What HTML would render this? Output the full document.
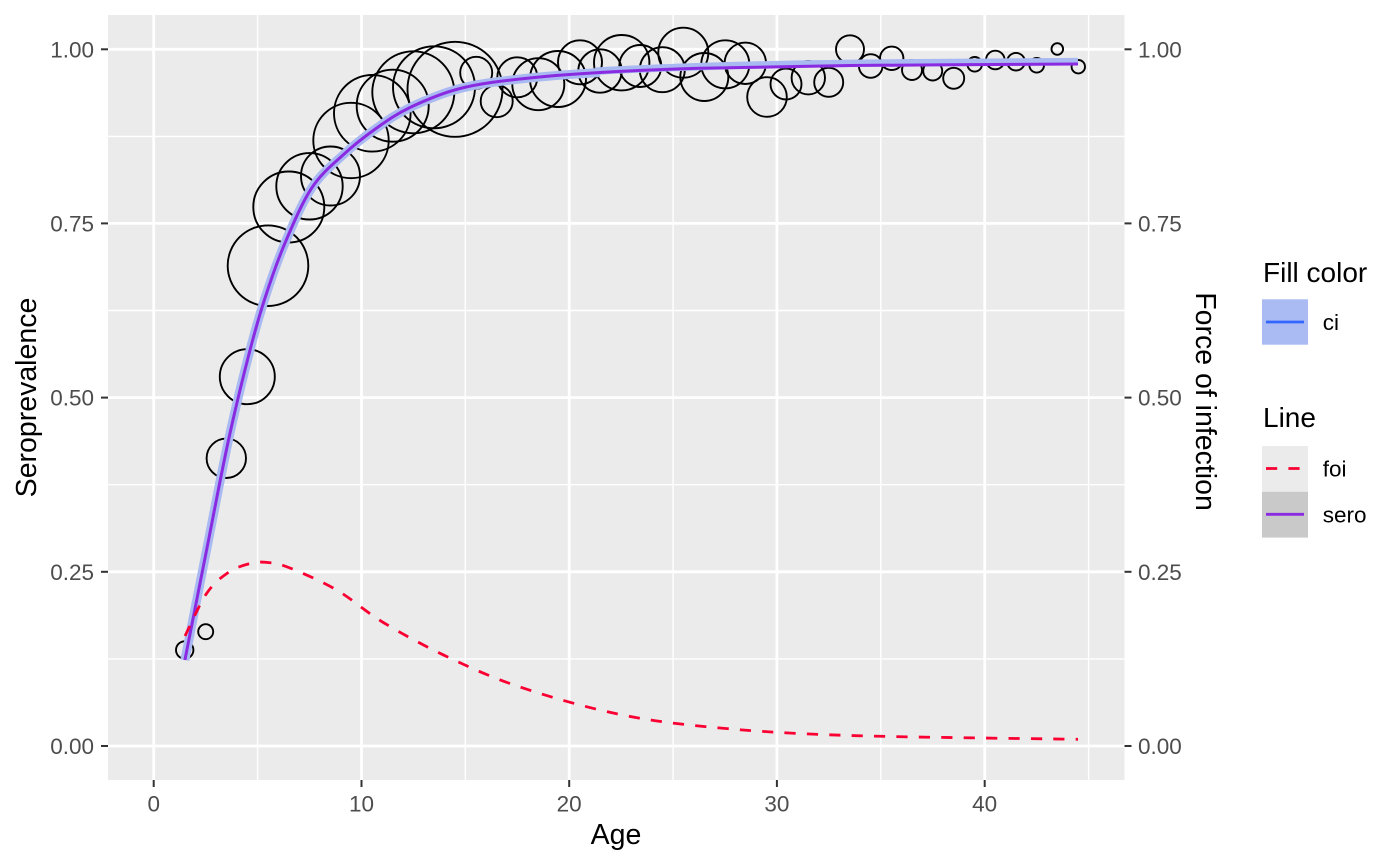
<!DOCTYPE html>
<html>
<head>
<meta charset="utf-8">
<style>
  html,body{margin:0;padding:0;background:#ffffff;}
  svg{display:block;}
  text{font-family:"Liberation Sans", Arial, sans-serif;}
</style>
</head>
<body>
<svg width="1400" height="865" viewBox="0 0 1400 865" xmlns="http://www.w3.org/2000/svg">
  <rect x="0" y="0" width="1400" height="865" fill="#ffffff"/>
  <rect x="108" y="15" width="1016.5" height="765" fill="#ebebeb"/>
  <g stroke="#ffffff" stroke-width="1.4">
    <line x1="108" x2="1124.5" y1="658.9" y2="658.9"/>
    <line x1="108" x2="1124.5" y1="484.7" y2="484.7"/>
    <line x1="108" x2="1124.5" y1="310.5" y2="310.5"/>
    <line x1="108" x2="1124.5" y1="136.4" y2="136.4"/>
    <line y1="15" y2="780" x1="257.6" x2="257.6"/>
    <line y1="15" y2="780" x1="465.3" x2="465.3"/>
    <line y1="15" y2="780" x1="673.1" x2="673.1"/>
    <line y1="15" y2="780" x1="880.8" x2="880.8"/>
    <line y1="15" y2="780" x1="1088.6" x2="1088.6"/>
  </g>
  <g stroke="#ffffff" stroke-width="2.8">
    <line x1="108" x2="1124.5" y1="746" y2="746"/>
    <line x1="108" x2="1124.5" y1="571.8" y2="571.8"/>
    <line x1="108" x2="1124.5" y1="397.6" y2="397.6"/>
    <line x1="108" x2="1124.5" y1="223.4" y2="223.4"/>
    <line x1="108" x2="1124.5" y1="49.3" y2="49.3"/>
    <line y1="15" y2="780" x1="153.7" x2="153.7"/>
    <line y1="15" y2="780" x1="361.5" x2="361.5"/>
    <line y1="15" y2="780" x1="569.2" x2="569.2"/>
    <line y1="15" y2="780" x1="776.9" x2="776.9"/>
    <line y1="15" y2="780" x1="984.7" x2="984.7"/>
  </g>

  <g fill="none" stroke="#000000" stroke-width="1.9">
    <circle cx="184.7" cy="650" r="8.7"/>
    <circle cx="205.7" cy="631.7" r="7.5"/>
    <circle cx="226.3" cy="458.3" r="19.7"/>
    <circle cx="247.3" cy="376.7" r="27.5"/>
    <circle cx="268" cy="265.7" r="40.3"/>
    <circle cx="288.8" cy="207" r="35.5"/>
    <circle cx="309.5" cy="186.3" r="33.2"/>
    <circle cx="330.5" cy="176" r="29.5"/>
    <circle cx="351" cy="140.5" r="37.7"/>
    <circle cx="372.3" cy="113.3" r="38.3"/>
    <circle cx="392.7" cy="105.7" r="36"/>
    <circle cx="413.3" cy="92.3" r="41"/>
    <circle cx="434" cy="87.3" r="41"/>
    <circle cx="455" cy="89.3" r="47.5"/>
    <circle cx="476.2" cy="72.8" r="16"/>
    <circle cx="496.7" cy="101.2" r="16"/>
    <circle cx="517.3" cy="77.3" r="20"/>
    <circle cx="538.3" cy="84.2" r="26"/>
    <circle cx="558" cy="79" r="28"/>
    <circle cx="580" cy="62.3" r="22"/>
    <circle cx="600" cy="71" r="21.7"/>
    <circle cx="621.7" cy="62.7" r="27.7"/>
    <circle cx="640.3" cy="66" r="21"/>
    <circle cx="662.3" cy="69.7" r="22.5"/>
    <circle cx="683.3" cy="52.7" r="25"/>
    <circle cx="704.3" cy="77" r="24"/>
    <circle cx="725.3" cy="64.3" r="24"/>
    <circle cx="745.3" cy="63.3" r="20.7"/>
    <circle cx="767" cy="97" r="19.8"/>
    <circle cx="786" cy="84" r="15.5"/>
    <circle cx="808.3" cy="77.7" r="16.7"/>
    <circle cx="828.7" cy="82.3" r="14.5"/>
    <circle cx="850" cy="49.3" r="14"/>
    <circle cx="870.7" cy="66" r="11.8"/>
    <circle cx="891.7" cy="58.3" r="11.7"/>
    <circle cx="912" cy="70" r="10"/>
    <circle cx="932.7" cy="71" r="9.5"/>
    <circle cx="953.7" cy="78.3" r="10.5"/>
    <circle cx="974.7" cy="64.3" r="7.3"/>
    <circle cx="995.3" cy="60" r="9.3"/>
    <circle cx="1016" cy="61.7" r="8.8"/>
    <circle cx="1036.7" cy="65.3" r="7.3"/>
    <circle cx="1057.3" cy="49" r="5.8"/>
    <circle cx="1078.3" cy="66.7" r="6.7"/>
  </g>

  <path d="M184.9,660 C188.42,642.17 198.77,589.5 206,553 C213.23,516.5 221.13,474.17 228.3,441 C235.47,407.83 242.88,377.83 249,354 C255.12,330.17 259,316.5 265,298 C271,279.5 277.22,261.33 285,243 C292.78,224.67 302.03,202.67 311.7,188 C321.37,173.33 332.28,164.92 343,155 C353.72,145.08 364.83,136.42 376,128.5 C387.17,120.58 396,114.17 410,107.5 C424,100.83 441.67,93.25 460,88.5 C478.33,83.75 496.67,81.67 520,79 C543.33,76.33 570,74.28 600,72.5"
        fill="none" stroke="#a9b9f1" stroke-width="9" stroke-linejoin="round"/>
  <path d="M595,71.2 C630,69.4 658.33,67.9 700,66.6 C741.67,65.3 787,64.2 850,63.4 C913,62.6 1040,62 1078,61.6"
        fill="none" stroke="#a9b9f1" stroke-width="7.5" stroke-linejoin="round"/>

  <path d="M184.9,660 C188.42,642.17 198.77,589.5 206,553 C213.23,516.5 221.13,474.17 228.3,441 C235.47,407.83 242.88,377.83 249,354 C255.12,330.17 259,316.5 265,298 C271,279.5 277.22,261.33 285,243 C292.78,224.67 302.03,202.67 311.7,188 C321.37,173.33 332.28,164.92 343,155 C353.72,145.08 364.83,136.42 376,128.5 C387.17,120.58 396,114.17 410,107.5 C424,100.83 441.67,93.25 460,88.5 C478.33,83.75 496.67,81.67 520,79 C543.33,76.33 570,74.28 600,72.5 C630,70.72 658.33,69.47 700,68.3 C741.67,67.13 787,66.22 850,65.5 C913,64.78 1040,64.25 1078,64"
        fill="none" stroke="#8a2be2" stroke-width="3" stroke-linejoin="round"/>

  <path d="M185,636 C188.62,628.88 199.48,603.88 206.7,593.3 C213.92,582.72 221.08,577.47 228.3,572.5 C235.52,567.53 243.38,565.17 250,563.5 C256.62,561.83 261.33,561.75 268,562.5 C274.67,563.25 278.55,563.42 290,568 C301.45,572.58 321.15,580.92 336.7,590 C352.25,599.08 364.97,611.42 383.3,622.5 C401.63,633.58 423.92,645.75 446.7,656.5 C469.48,667.25 491.12,677.33 520,687 C548.88,696.67 586.67,707.67 620,714.5 C653.33,721.33 681.67,724.5 720,728 C758.33,731.5 790.33,733.62 850,735.5 C909.67,737.38 1040,738.67 1078,739.3"
        fill="none" stroke="#fa0032" stroke-width="2.8" stroke-dasharray="11.2 11.2"/>

  <g stroke="#333333" stroke-width="2">
    <line x1="101" x2="108" y1="746" y2="746"/>
    <line x1="101" x2="108" y1="571.8" y2="571.8"/>
    <line x1="101" x2="108" y1="397.6" y2="397.6"/>
    <line x1="101" x2="108" y1="223.4" y2="223.4"/>
    <line x1="101" x2="108" y1="49.3" y2="49.3"/>
    <line x1="1124.5" x2="1131.5" y1="746" y2="746"/>
    <line x1="1124.5" x2="1131.5" y1="571.8" y2="571.8"/>
    <line x1="1124.5" x2="1131.5" y1="397.6" y2="397.6"/>
    <line x1="1124.5" x2="1131.5" y1="223.4" y2="223.4"/>
    <line x1="1124.5" x2="1131.5" y1="49.3" y2="49.3"/>
    <line y1="780" y2="787" x1="153.7" x2="153.7"/>
    <line y1="780" y2="787" x1="361.5" x2="361.5"/>
    <line y1="780" y2="787" x1="569.2" x2="569.2"/>
    <line y1="780" y2="787" x1="776.9" x2="776.9"/>
    <line y1="780" y2="787" x1="984.7" x2="984.7"/>
  </g>
  <g fill="#4d4d4d" font-size="22.5">
    <text x="94" y="754" text-anchor="end">0.00</text>
    <text x="94" y="579.8" text-anchor="end">0.25</text>
    <text x="94" y="405.6" text-anchor="end">0.50</text>
    <text x="94" y="231.4" text-anchor="end">0.75</text>
    <text x="94" y="57.3" text-anchor="end">1.00</text>
    <text x="1138" y="754">0.00</text>
    <text x="1138" y="579.8">0.25</text>
    <text x="1138" y="405.6">0.50</text>
    <text x="1138" y="231.4">0.75</text>
    <text x="1138" y="57.3">1.00</text>
    <text x="153.7" y="811.5" text-anchor="middle">0</text>
    <text x="361.5" y="811.5" text-anchor="middle">10</text>
    <text x="569.2" y="811.5" text-anchor="middle">20</text>
    <text x="776.9" y="811.5" text-anchor="middle">30</text>
    <text x="984.7" y="811.5" text-anchor="middle">40</text>
  </g>

  <text x="616" y="844" text-anchor="middle" font-size="28.5" fill="#000">Age</text>
  <text transform="translate(36,397.5) rotate(-90)" text-anchor="middle" font-size="28.5" fill="#000">Seroprevalence</text>
  <text transform="translate(1196,401.5) rotate(90)" text-anchor="middle" font-size="28.5" fill="#000">Force of infection</text>

  <text x="1263" y="282" font-size="28" fill="#000">Fill color</text>
  <rect x="1262" y="299.3" width="46" height="45.4" fill="#aabbf3"/>
  <line x1="1266" x2="1304" y1="322" y2="322" stroke="#3366ff" stroke-width="2.8"/>
  <text x="1322.7" y="330" font-size="22.5" fill="#000">ci</text>

  <text x="1263" y="427" font-size="28" fill="#000">Line</text>
  <rect x="1262" y="446" width="46" height="45.8" fill="#ebebeb"/>
  <rect x="1262" y="491.8" width="46" height="45.8" fill="#c9c9c9"/>
  <line x1="1266" x2="1304" y1="468.5" y2="468.5" stroke="#fa0032" stroke-width="2.8" stroke-dasharray="11.2 11.2"/>
  <line x1="1266" x2="1304" y1="514.3" y2="514.3" stroke="#8a2be2" stroke-width="2.8"/>
  <text x="1322.7" y="476.7" font-size="22.5" fill="#000">foi</text>
  <text x="1322.7" y="522.7" font-size="22.5" fill="#000">sero</text>
</svg>
</body>
</html>
